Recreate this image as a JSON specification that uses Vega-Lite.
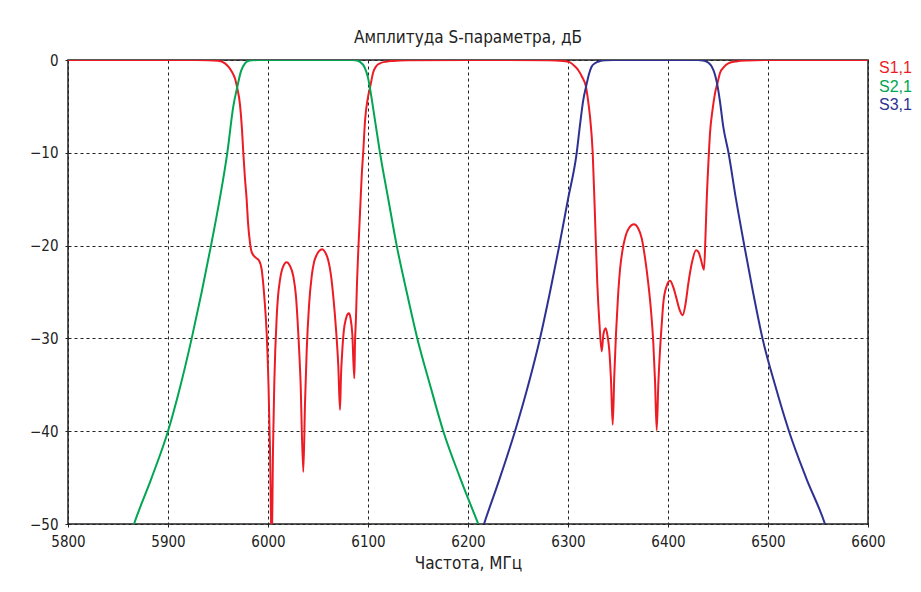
{
  "$schema": "https://vega.github.io/schema/vega-lite/v6.json",
  "width": 800,
  "height": 464,
  "autosize": {"type": "none"},
  "padding": {"left": 68, "top": 60, "right": 53, "bottom": 68},
  "background": "white",
  "title": {"text": "Амплитуда S-параметра, дБ", "fontSize": 17, "font": "'Liberation Sans Narrow', 'DejaVu Sans Condensed', sans-serif", "fontWeight": "normal", "color": "#222", "offset": 6, "anchor": "middle", "frame": "group"},
  "data": {"values": [
    {"s":"S1,1","f":5800,"db":0},{"s":"S1,1","f":5900,"db":0},{"s":"S1,1","f":5940,"db":-0.02},{"s":"S1,1","f":5950,"db":-0.08},{"s":"S1,1","f":5957,"db":-0.36},{"s":"S1,1","f":5961,"db":-0.8},{"s":"S1,1","f":5964,"db":-1.3},{"s":"S1,1","f":5967,"db":-2.0},{"s":"S1,1","f":5969,"db":-2.9},{"s":"S1,1","f":5972,"db":-4.8},{"s":"S1,1","f":5974,"db":-7.5},{"s":"S1,1","f":5975.3,"db":-10},{"s":"S1,1","f":5977,"db":-12.8},{"s":"S1,1","f":5978.7,"db":-15.1},{"s":"S1,1","f":5980,"db":-17.5},{"s":"S1,1","f":5982,"db":-19.7},{"s":"S1,1","f":5983.7,"db":-20.7},{"s":"S1,1","f":5987.7,"db":-21.3},{"s":"S1,1","f":5991,"db":-21.6},{"s":"S1,1","f":5993.7,"db":-22.6},{"s":"S1,1","f":5996.3,"db":-25.5},{"s":"S1,1","f":5998.7,"db":-29.5},{"s":"S1,1","f":6000.5,"db":-35},{"s":"S1,1","f":6002,"db":-42},{"s":"S1,1","f":6003.7,"db":-53},{"s":"S1,1","f":6005,"db":-42},{"s":"S1,1","f":6006.3,"db":-34.8},{"s":"S1,1","f":6008.7,"db":-27.7},{"s":"S1,1","f":6010,"db":-25.5},{"s":"S1,1","f":6012,"db":-23.7},{"s":"S1,1","f":6015,"db":-22.3},{"s":"S1,1","f":6018.7,"db":-21.8},{"s":"S1,1","f":6022,"db":-22.2},{"s":"S1,1","f":6025.3,"db":-23.3},{"s":"S1,1","f":6028,"db":-25.5},{"s":"S1,1","f":6030.3,"db":-29.5},{"s":"S1,1","f":6032.5,"db":-34.5},{"s":"S1,1","f":6035.3,"db":-44.4},{"s":"S1,1","f":6037,"db":-37},{"s":"S1,1","f":6038.7,"db":-31.3},{"s":"S1,1","f":6041,"db":-26.5},{"s":"S1,1","f":6043.7,"db":-23.3},{"s":"S1,1","f":6046,"db":-21.8},{"s":"S1,1","f":6048.7,"db":-21.0},{"s":"S1,1","f":6051,"db":-20.6},{"s":"S1,1","f":6054.3,"db":-20.4},{"s":"S1,1","f":6057,"db":-20.7},{"s":"S1,1","f":6060.3,"db":-21.6},{"s":"S1,1","f":6063,"db":-23.2},{"s":"S1,1","f":6065.3,"db":-25.5},{"s":"S1,1","f":6068,"db":-29},{"s":"S1,1","f":6070.3,"db":-33.0},{"s":"S1,1","f":6072,"db":-37.7},{"s":"S1,1","f":6073,"db":-34},{"s":"S1,1","f":6074.3,"db":-31.3},{"s":"S1,1","f":6076,"db":-29},{"s":"S1,1","f":6077.7,"db":-28.0},{"s":"S1,1","f":6079.5,"db":-27.4},{"s":"S1,1","f":6081,"db":-27.3},{"s":"S1,1","f":6082.5,"db":-27.8},{"s":"S1,1","f":6084.3,"db":-29.5},{"s":"S1,1","f":6086.3,"db":-34.3},{"s":"S1,1","f":6087,"db":-30.5},{"s":"S1,1","f":6088,"db":-27.7},{"s":"S1,1","f":6089,"db":-24},{"s":"S1,1","f":6090.3,"db":-20.5},{"s":"S1,1","f":6092,"db":-16.5},{"s":"S1,1","f":6093.7,"db":-12.5},{"s":"S1,1","f":6095.3,"db":-9.8},{"s":"S1,1","f":6097,"db":-6.6},{"s":"S1,1","f":6100,"db":-4.0},{"s":"S1,1","f":6102,"db":-3.0},{"s":"S1,1","f":6105.3,"db":-1.3},{"s":"S1,1","f":6108,"db":-0.7},{"s":"S1,1","f":6112,"db":-0.36},{"s":"S1,1","f":6118,"db":-0.18},{"s":"S1,1","f":6125,"db":-0.1},{"s":"S1,1","f":6140,"db":-0.03},{"s":"S1,1","f":6200,"db":0},{"s":"S1,1","f":6280,"db":-0.02},{"s":"S1,1","f":6295,"db":-0.1},{"s":"S1,1","f":6302,"db":-0.25},{"s":"S1,1","f":6306,"db":-0.6},{"s":"S1,1","f":6310.3,"db":-1.1},{"s":"S1,1","f":6314,"db":-1.8},{"s":"S1,1","f":6318,"db":-2.9},{"s":"S1,1","f":6320,"db":-4.3},{"s":"S1,1","f":6322,"db":-6.1},{"s":"S1,1","f":6324.7,"db":-10},{"s":"S1,1","f":6327,"db":-16.9},{"s":"S1,1","f":6329.3,"db":-24.1},{"s":"S1,1","f":6331.5,"db":-28.5},{"s":"S1,1","f":6333.7,"db":-31.4},{"s":"S1,1","f":6335.5,"db":-29.5},{"s":"S1,1","f":6337.7,"db":-28.9},{"s":"S1,1","f":6339.5,"db":-29.7},{"s":"S1,1","f":6341.3,"db":-31.3},{"s":"S1,1","f":6343,"db":-34.5},{"s":"S1,1","f":6344.7,"db":-39.3},{"s":"S1,1","f":6346.3,"db":-34},{"s":"S1,1","f":6348,"db":-29.5},{"s":"S1,1","f":6350,"db":-25.5},{"s":"S1,1","f":6352,"db":-22.6},{"s":"S1,1","f":6354.5,"db":-20.5},{"s":"S1,1","f":6357,"db":-19.2},{"s":"S1,1","f":6361,"db":-18.1},{"s":"S1,1","f":6366,"db":-17.7},{"s":"S1,1","f":6370,"db":-18.1},{"s":"S1,1","f":6373.7,"db":-19.2},{"s":"S1,1","f":6377,"db":-21.3},{"s":"S1,1","f":6380.3,"db":-24.1},{"s":"S1,1","f":6383,"db":-27},{"s":"S1,1","f":6385.3,"db":-30.5},{"s":"S1,1","f":6387,"db":-34.5},{"s":"S1,1","f":6388.7,"db":-39.9},{"s":"S1,1","f":6390.3,"db":-35},{"s":"S1,1","f":6392,"db":-31.3},{"s":"S1,1","f":6393.7,"db":-28.5},{"s":"S1,1","f":6395.3,"db":-26.2},{"s":"S1,1","f":6398.5,"db":-24.4},{"s":"S1,1","f":6402,"db":-23.8},{"s":"S1,1","f":6405,"db":-24.4},{"s":"S1,1","f":6408,"db":-25.5},{"s":"S1,1","f":6411.5,"db":-26.9},{"s":"S1,1","f":6414.7,"db":-27.5},{"s":"S1,1","f":6417.5,"db":-26.3},{"s":"S1,1","f":6420.3,"db":-24.1},{"s":"S1,1","f":6424,"db":-21.8},{"s":"S1,1","f":6428,"db":-20.5},{"s":"S1,1","f":6430.5,"db":-20.7},{"s":"S1,1","f":6432.7,"db":-21.4},{"s":"S1,1","f":6436,"db":-22.6},{"s":"S1,1","f":6437.5,"db":-19},{"s":"S1,1","f":6438.7,"db":-15.1},{"s":"S1,1","f":6440.3,"db":-11.3},{"s":"S1,1","f":6442,"db":-7.9},{"s":"S1,1","f":6444.5,"db":-5.4},{"s":"S1,1","f":6447,"db":-3.6},{"s":"S1,1","f":6449.7,"db":-2.4},{"s":"S1,1","f":6452,"db":-1.4},{"s":"S1,1","f":6456,"db":-0.75},{"s":"S1,1","f":6460.3,"db":-0.36},{"s":"S1,1","f":6468,"db":-0.15},{"s":"S1,1","f":6480,"db":-0.05},{"s":"S1,1","f":6500,"db":0},{"s":"S1,1","f":6600,"db":0},
    {"s":"S2,1","f":5862,"db":-51.3},{"s":"S2,1","f":5866,"db":-50},{"s":"S2,1","f":5883.7,"db":-45},{"s":"S2,1","f":5900,"db":-40},{"s":"S2,1","f":5912.7,"db":-35},{"s":"S2,1","f":5923.7,"db":-30},{"s":"S2,1","f":5933.7,"db":-25},{"s":"S2,1","f":5943,"db":-20},{"s":"S2,1","f":5951.7,"db":-15},{"s":"S2,1","f":5959.3,"db":-10},{"s":"S2,1","f":5965.3,"db":-5},{"s":"S2,1","f":5969.3,"db":-2.9},{"s":"S2,1","f":5973,"db":-1.2},{"s":"S2,1","f":5977,"db":-0.36},{"s":"S2,1","f":5980,"db":-0.12},{"s":"S2,1","f":5984,"db":-0.03},{"s":"S2,1","f":5990,"db":0},{"s":"S2,1","f":6085,"db":0},{"s":"S2,1","f":6089,"db":-0.05},{"s":"S2,1","f":6092,"db":-0.2},{"s":"S2,1","f":6095,"db":-0.5},{"s":"S2,1","f":6097,"db":-0.9},{"s":"S2,1","f":6100,"db":-1.9},{"s":"S2,1","f":6102,"db":-3.05},{"s":"S2,1","f":6107,"db":-6.5},{"s":"S2,1","f":6112,"db":-10},{"s":"S2,1","f":6120.3,"db":-15},{"s":"S2,1","f":6128.7,"db":-20},{"s":"S2,1","f":6138.7,"db":-25},{"s":"S2,1","f":6149.3,"db":-30},{"s":"S2,1","f":6162,"db":-35},{"s":"S2,1","f":6175.3,"db":-40},{"s":"S2,1","f":6192,"db":-45},{"s":"S2,1","f":6210.3,"db":-50},{"s":"S2,1","f":6214,"db":-51},
    {"s":"S3,1","f":6213,"db":-51},{"s":"S3,1","f":6216,"db":-50},{"s":"S3,1","f":6232,"db":-45},{"s":"S3,1","f":6247,"db":-40},{"s":"S3,1","f":6260.3,"db":-35},{"s":"S3,1","f":6272,"db":-30},{"s":"S3,1","f":6282,"db":-25},{"s":"S3,1","f":6291.3,"db":-20},{"s":"S3,1","f":6300,"db":-15},{"s":"S3,1","f":6308.7,"db":-10},{"s":"S3,1","f":6312,"db":-7},{"s":"S3,1","f":6315.3,"db":-4.3},{"s":"S3,1","f":6318,"db":-2.9},{"s":"S3,1","f":6321,"db":-1.5},{"s":"S3,1","f":6323.7,"db":-0.7},{"s":"S3,1","f":6327,"db":-0.35},{"s":"S3,1","f":6332,"db":-0.12},{"s":"S3,1","f":6338,"db":-0.03},{"s":"S3,1","f":6345,"db":0},{"s":"S3,1","f":6430,"db":0},{"s":"S3,1","f":6435,"db":-0.05},{"s":"S3,1","f":6439,"db":-0.2},{"s":"S3,1","f":6441.5,"db":-0.4},{"s":"S3,1","f":6443.7,"db":-0.7},{"s":"S3,1","f":6447,"db":-1.6},{"s":"S3,1","f":6449.7,"db":-2.9},{"s":"S3,1","f":6452,"db":-4.5},{"s":"S3,1","f":6455.3,"db":-7.2},{"s":"S3,1","f":6460.5,"db":-10},{"s":"S3,1","f":6468,"db":-15},{"s":"S3,1","f":6476.3,"db":-20},{"s":"S3,1","f":6485,"db":-25},{"s":"S3,1","f":6494.5,"db":-30},{"s":"S3,1","f":6507,"db":-35},{"s":"S3,1","f":6521,"db":-40},{"s":"S3,1","f":6538,"db":-45},{"s":"S3,1","f":6557,"db":-50},{"s":"S3,1","f":6560,"db":-51}
  ]},
  "mark": {"type": "line", "interpolate": "monotone", "strokeWidth": 2, "clip": true},
  "encoding": {
    "x": {"field": "f", "type": "quantitative", "scale": {"domain": [5800, 6600], "nice": false, "zero": false},
      "axis": {"values": [5800, 5900, 6000, 6100, 6200, 6300, 6400, 6500, 6600], "title": "Частота, МГц", "grid": true, "gridColor": "#222", "gridDash": [3, 3], "gridWidth": 1, "domain": false, "tickColor": "#222", "tickDash": [3, 3], "tickSize": 5, "labelFontSize": 15, "labelPadding": 5, "labelColor": "#222", "labelFlush": false, "labelOverlap": false, "labelFont": "'Liberation Sans Narrow', 'DejaVu Sans Condensed', sans-serif", "titleFont": "'Liberation Sans Narrow', 'DejaVu Sans Condensed', sans-serif", "titleFontSize": 17, "titleFontWeight": "normal", "titleColor": "#222", "titlePadding": 6, "format": "d"}},
    "y": {"field": "db", "type": "quantitative", "scale": {"domain": [-50, 0], "nice": false, "zero": false},
      "axis": {"values": [-50, -40, -30, -20, -10, 0], "title": null, "grid": true, "gridColor": "#222", "gridDash": [3, 3], "gridWidth": 1, "domain": false, "tickColor": "#222", "tickDash": [3, 3], "tickSize": 6, "labelFontSize": 15, "labelPadding": 4, "labelColor": "#222", "labelFlush": false, "labelOverlap": false, "labelFont": "'Liberation Sans Narrow', 'DejaVu Sans Condensed', sans-serif"}},
    "color": {"field": "s", "type": "nominal", "scale": {"domain": ["S1,1", "S2,1", "S3,1"], "range": ["#ed1c24", "#00a651", "#2e3192"]},
      "legend": {"orient": "none", "legendX": 795, "legendY": 0, "title": null, "labelFontSize": 16, "labelFont": "'Liberation Sans', Arial, sans-serif", "symbolSize": 0, "symbolOpacity": 0, "symbolStrokeWidth": 0, "labelOffset": 0, "rowPadding": 2.5, "padding": 0,
        "encode": {"labels": {"update": {"fill": {"scale": "color", "field": "value"}}}}}}
  },
  "config": {"view": {"stroke": "#222", "strokeWidth": 1.5}}
}
